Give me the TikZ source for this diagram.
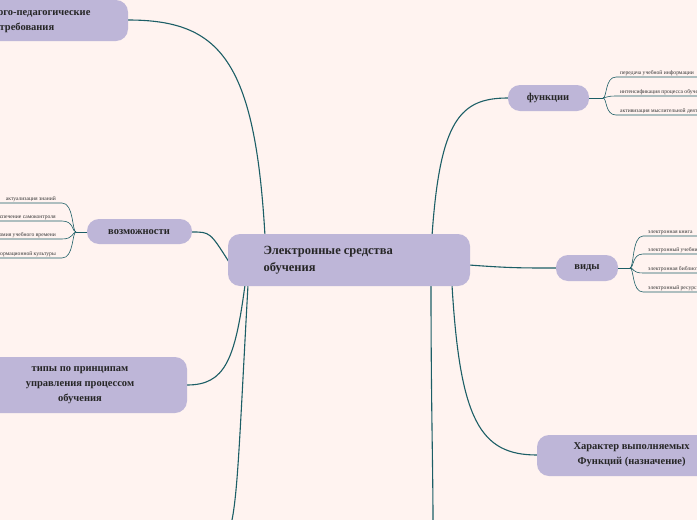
\documentclass[tikz,border=0pt]{standalone}
\usepackage{fontspec}
\setmainfont{Liberation Serif}
\begin{document}
\begin{tikzpicture}[x=1pt,y=-1pt,
  box/.style={fill=nodec,rounded corners=12pt},
  lnk/.style={draw=linkc,line width=1.1pt},
  leaf/.style={draw=linkc,line width=0.6pt},
  lt/.style={font=\fontsize{5.6}{6.5}\selectfont,text=black!80,inner sep=1pt},
  bt/.style={font=\fontsize{10.5}{15}\selectfont\bfseries,text=black!85,align=center}]
\definecolor{bgc}{HTML}{FFF3F0}
\definecolor{nodec}{HTML}{BEB6D8}
\definecolor{linkc}{HTML}{1C5E66}
\useasboundingbox (0,0) rectangle (697,520);
\clip (0,0) rectangle (697,520);
\fill[bgc] (0,0) rectangle (697,520);
% connectors
\draw[lnk] (265,236) .. controls (255,60) and (220,20) .. (128,20);
\draw[lnk] (229,262) .. controls (210,232) and (210,232) .. (192,232);
\draw[lnk] (245,285) .. controls (235,360) and (225,385) .. (187,385);
\draw[lnk] (248,285) .. controls (240,430) and (238,490) .. (232,520);
\draw[lnk] (432,236) .. controls (440,120) and (460,98) .. (508,98);
\draw[lnk] (469,265) .. controls (510,268) and (520,268) .. (556,268);
\draw[lnk] (452,285) .. controls (460,420) and (480,455) .. (537,455);
\draw[lnk] (431,286) .. controls (431,400) and (433,470) .. (433,520);
% nodes
\fill[box] (228,234) rectangle (470,286);
\node[font=\fontsize{12.5}{17}\selectfont\bfseries,text=black!85,align=left,anchor=west] (c) at (260,260) {Электронные средства\\обучения};
\fill[box] (-140,0) rectangle (128,41);
\node[bt,anchor=east] (p) at (94,21) {Психолого-педагогические\\требования};
\fill[box] (87,219) rectangle (192,244);
\node[bt] (v) at (139,232) {возможности};
\fill[box] (-20,357) rectangle (187,413);
\node[bt] (t) at (80,385) {типы по принципам\\управления процессом\\обучения};
\fill[box] (508,85) rectangle (589,111);
\node[bt] (f) at (548,98) {функции};
\fill[box] (556,255) rectangle (618,281);
\node[bt] (w) at (587,268) {виды};
\fill[box] (537,435) rectangle (760,476);
\node[bt,anchor=west] (h) at (570,455) {Характер выполняемых\\Функций (назначение)};
% leaves left
\draw[leaf] (87,232) -- (76,232);
\foreach \y/\t in {203/актуализация знаний,221/обеспечение самоконтроля,239/экономия учебного времени,258/формирование информационной культуры}{
  \draw[leaf] (76,232) .. controls (72,232) and (74,\y) .. (62,\y) -- (0,\y);
  \node[lt,anchor=south east] at (57,\y) {\t};
}
% leaves функции
\draw[leaf] (589,98) -- (603,98);
\foreach \y/\t in {77/передача учебной информации,96/интенсификация процесса обучения,115/активизация мыслительной деятельности}{
  \draw[leaf] (603,98) .. controls (607,98) and (605,\y) .. (616,\y) -- (697,\y);
  \node[lt,anchor=south west] at (619,\y) {\t};
}
% leaves виды
\draw[leaf] (618,268) -- (630,268);
\foreach \y/\t in {236/электронная книга,254/электронный учебник,273/электронная библиотека,292/электронный ресурс}{
  \draw[leaf] (630,268) .. controls (634,268) and (632,\y) .. (643,\y) -- (697,\y);
  \node[lt,anchor=south west] at (647,\y) {\t};
}
\end{tikzpicture}
\end{document}
